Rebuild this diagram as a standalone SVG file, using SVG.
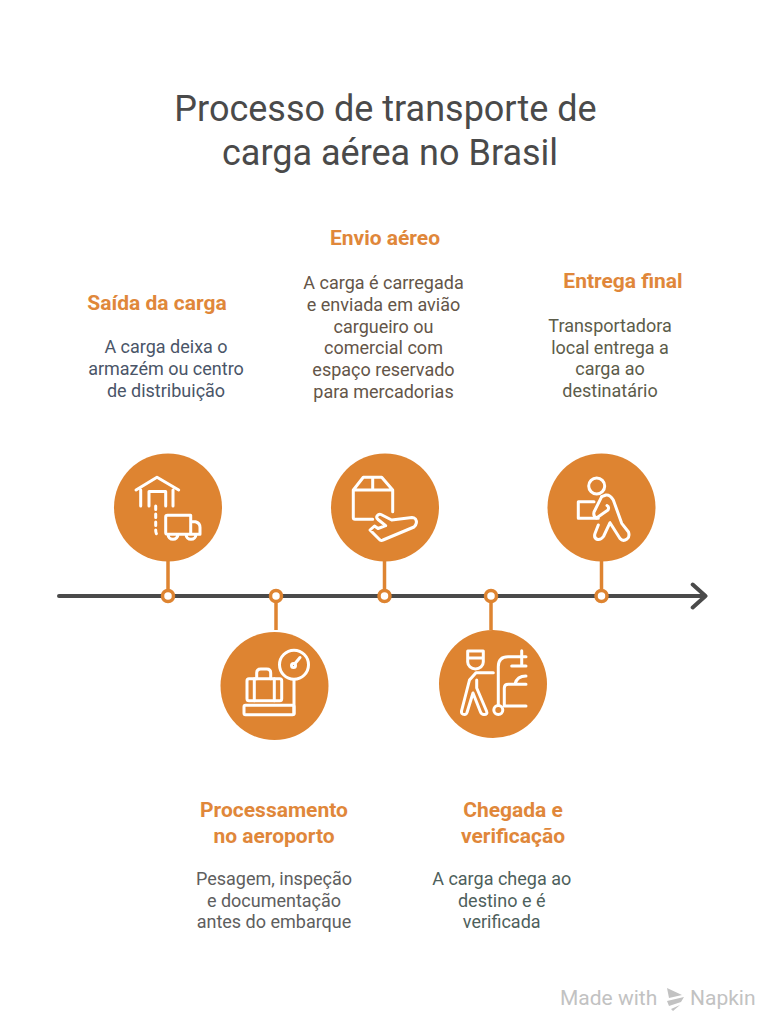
<svg xmlns="http://www.w3.org/2000/svg" width="775" height="1024" viewBox="0 0 775 1024">
<style>
text{font-family:Roboto,"Liberation Sans",sans-serif;text-anchor:middle}
.t{font-size:36px;fill:#4a4a4a}
.h{font-size:21px;font-weight:700;fill:#e0873a}
.b{font-size:18px}
.m{font-size:21px;fill:#c2c2c2;text-anchor:start}
.c{fill:#de8431}
.i{fill:none;stroke:#fff;stroke-width:3;stroke-linecap:round;stroke-linejoin:round}
.l{fill:none;stroke:#de8431;stroke-width:3.500}
.d{fill:#fff;stroke:#de8431;stroke-width:3.500}
.a{fill:none;stroke:#4a4a4a;stroke-width:4;stroke-linecap:round;stroke-linejoin:round}
</style>
<rect width="775" height="1024" fill="#fff"/>
<g id="title"><text class="t" x="385.500" y="120.500">Processo de transporte de</text><text class="t" x="390" y="164.500">carga aérea no Brasil</text></g>
<g id="connectors">
<path class="a" d="M59 596H704M692.700 584.500L705.500 596L692.700 607.500"/>
<path class="l" d="M168 561V590M276 602V630M384.500 561V590M491 602V630M601.500 561V590"/>
<circle class="d" cx="168" cy="596" r="5.500"/><circle class="d" cx="276" cy="596" r="5.500"/><circle class="d" cx="384.500" cy="596" r="5.500"/><circle class="d" cx="491" cy="596" r="5.500"/><circle class="d" cx="601.500" cy="596" r="5.500"/>
</g>
<g id="node1"><circle class="c" cx="168" cy="507.500" r="54"/>
<path class="i" d="M136 490L157 477.300L178.700 490M140.700 490V506M173 490V506M149 506V491.500H165.700V506"/>
<path class="i" stroke-dasharray="3.500 4.500" d="M155.700 506V530Q155.700 535.500 159.500 535.500"/>
<path class="i" d="M167.500 515.300H190.700V534.300H167.500Q165.700 534.300 165.700 532.500V517Q165.700 515.300 167.500 515.300ZM190.700 521.700H195.500Q200 523 200 527.500V534.300H190.700M168 534.300A5 5 0 0 0 178 534.300M186 534.300A5 5 0 0 0 196 534.300"/>
<text class="h" x="157" y="310">Saída da carga</text>
<g class="b" fill="#4a5568"><text x="166" y="353">A carga deixa o</text><text x="166" y="375">armazém ou centro</text><text x="166" y="397">de distribuição</text></g></g>
<g id="node2"><circle class="c" cx="274.500" cy="686" r="54"/>
<circle class="i" cx="294" cy="664.700" r="14.500"/><circle class="i" cx="293.500" cy="665.500" r="2"/><path class="i" d="M295 663.500L300 657.500M294 679.500V714"/>
<rect class="i" x="244" y="705.300" width="50" height="9.400" rx="1.500"/>
<rect class="i" x="247" y="678.700" width="34.700" height="22" rx="2"/>
<path class="i" d="M256.700 678.700V673Q256.700 669 260.700 669H266.700Q270.700 669 270.700 673V678.700M254.300 678.700V700.700M274.300 678.700V700.700"/>
<text class="h" x="274" y="817">Processamento</text><text class="h" x="274" y="843">no aeroporto</text>
<g class="b" fill="#5e5e5e"><text x="274" y="884.500">Pesagem, inspeção</text><text x="274" y="906.500">e documentação</text><text x="274" y="928">antes do embarque</text></g></g>
<g id="node3"><circle class="c" cx="385" cy="507.500" r="54"/>
<path class="i" d="M372.700 519.300H355Q353.300 519.300 353.300 517.500V490L363.300 477.300H381.700L392.700 490V511.700M353.300 490H392.700M372.700 477.300V490"/>
<path class="i" d="M412 517.500L391.700 520L381 514.500Q379 513.500 377 516Q376 517.500 378 519.500L385.700 525.700L378 528.500L374.500 526L370 530L380 540Q381.500 541 383 540L414 527Q418 523 415.500 519Q414 517.500 412 517.500Z"/>
<text class="h" x="385" y="245">Envio aéreo</text>
<g class="b" fill="#645548"><text x="383.500" y="288.500">A carga é carregada</text><text x="383.500" y="310.500">e enviada em avião</text><text x="383.500" y="332.500">cargueiro ou</text><text x="383.500" y="354">comercial com</text><text x="383.500" y="376">espaço reservado</text><text x="383.500" y="398">para mercadorias</text></g></g>
<g id="node4"><circle class="c" cx="493" cy="684" r="54"/>
<path class="i" d="M467.700 651H483.300V662A7.800 7 0 0 1 467.700 662ZM467.700 658H483.300"/>
<path class="i" d="M493.300 672.700H476L469.500 680L461.500 711Q461 714.500 464.500 714.500Q466.500 714.500 467 712.500L473 693L480.500 712Q481.500 714.500 484 714.500Q488 714.500 486.500 711L476.700 688V680"/>
<circle class="i" cx="498.300" cy="710" r="4.500"/>
<path class="i" d="M498.300 705V666.700Q498.300 656.700 508 656.700H526M521.700 650.700V665M511.700 666H526M504.300 706H526M504.300 706V688Q504.300 684.300 508.300 684.300H526M515 684Q517 676 526 676"/>
<text class="h" x="513" y="817">Chegada e</text><text class="h" x="513" y="843">verificação</text>
<g class="b" fill="#4e5f5c"><text x="501.700" y="884.500">A carga chega ao</text><text x="501.700" y="906.500">destino e é</text><text x="501.700" y="928">verificada</text></g></g>
<g id="node5"><circle class="c" cx="601.500" cy="507.500" r="54"/>
<circle class="i" cx="596.700" cy="486" r="8"/>
<path class="i" d="M594 501.700H578.300V518.300H598.300"/>
<path class="i" d="M601.700 496.700L606 495Q610 494.500 613.300 500L621.700 523.300L628.500 532Q630 537 627 539Q623 542 620 538.500L610 522.700L603.500 536.500Q601 540 597.500 539.500Q593.500 538 595 533.500L598.300 525"/>
<path class="i" d="M601.700 496.700L594 512Q593 516.500 596.500 518L608 510Q609.500 507 607 505.500"/>
<text class="h" x="623" y="288">Entrega final</text>
<g class="b" fill="#5c5c4a"><text x="610" y="331.500">Transportadora</text><text x="610" y="353.500">local entrega a</text><text x="610" y="375">carga ao</text><text x="610" y="397">destinatário</text></g></g>
<g id="brand"><text class="m" x="560" y="1005">Made with</text>
<path fill="#c2c2c2" d="M667 988L682 995L669 998ZM667 1001L684 997L681 1002L669 1006ZM671 1009L680 1005L673 1011Z"/>
<text class="m" x="690" y="1005">Napkin</text></g>
</svg>
